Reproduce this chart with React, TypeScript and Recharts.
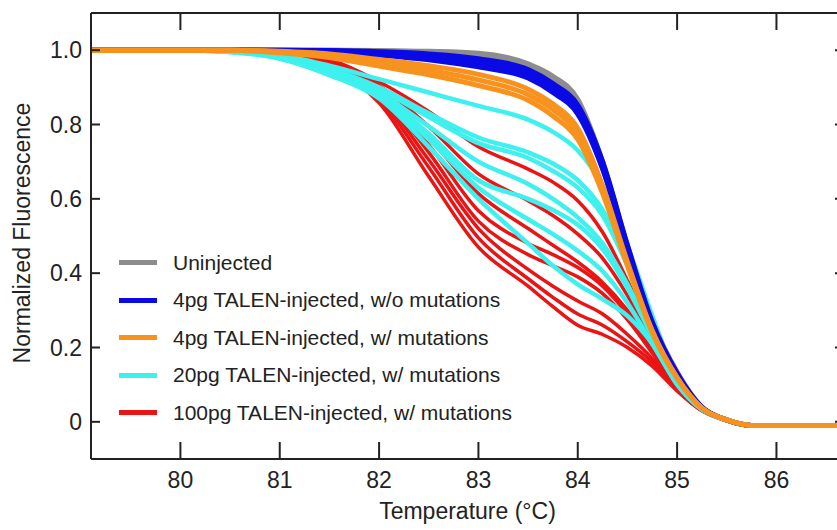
import { LineChart, Line, XAxis, YAxis, ReferenceLine, Legend } from "recharts";

// melt temperatures (°C) where curves were read
const TEMPS = [79.1, 80, 80.5, 81, 81.5, 82, 82.5, 83, 83.5, 83.75, 84, 84.25, 84.5, 84.75, 85, 85.25, 85.5, 85.75, 86.68];

const X_TICKS = [80, 81, 82, 83, 84, 85, 86];
const Y_TICKS = [0, 0.2, 0.4, 0.6, 0.8, 1.0];

// uninjected
const UNINJ_A = [1, 1, 1, 1, 1, 0.999, 0.997, 0.992, 0.963, 0.93, 0.868, 0.7, 0.475, 0.27, 0.134, 0.04, 0.005, -0.01, -0.01];
const UNINJ_B = [1, 1, 1, 1, 1, 0.998, 0.995, 0.987, 0.956, 0.921, 0.858, 0.695, 0.472, 0.268, 0.133, 0.04, 0.005, -0.01, -0.01];

// 4pg, no mutations
const P4_WT_A = [1, 1, 1, 1, 0.999, 0.996, 0.99, 0.977, 0.948, 0.91, 0.852, 0.7, 0.475, 0.268, 0.131, 0.039, 0.005, -0.01, -0.01];
const P4_WT_B = [1, 1, 1, 1, 0.998, 0.992, 0.982, 0.966, 0.937, 0.898, 0.84, 0.69, 0.468, 0.264, 0.129, 0.038, 0.005, -0.01, -0.01];
const P4_WT_C = [1, 1, 1, 0.999, 0.997, 0.987, 0.974, 0.955, 0.925, 0.886, 0.828, 0.68, 0.462, 0.261, 0.127, 0.038, 0.005, -0.01, -0.01];

// 4pg, with mutations
const P4_MUT_A = [1, 1, 1, 0.997, 0.99, 0.975, 0.958, 0.935, 0.895, 0.855, 0.79, 0.635, 0.43, 0.245, 0.119, 0.037, 0.005, -0.01, -0.01];
const P4_MUT_B = [1, 1, 1, 0.995, 0.985, 0.966, 0.946, 0.92, 0.88, 0.84, 0.775, 0.625, 0.425, 0.243, 0.118, 0.037, 0.005, -0.01, -0.01];
const P4_MUT_C = [1, 1, 1, 0.993, 0.98, 0.957, 0.934, 0.905, 0.865, 0.823, 0.76, 0.615, 0.42, 0.24, 0.117, 0.037, 0.005, -0.01, -0.01];

// 20pg, with mutations
const P20_A = [1, 1, 0.998, 0.987, 0.958, 0.922, 0.886, 0.85, 0.813, 0.78, 0.73, 0.635, 0.475, 0.285, 0.12, 0.036, 0.004, -0.01, -0.01];
const P20_B = [1, 1, 0.997, 0.985, 0.95, 0.9, 0.83, 0.765, 0.725, 0.695, 0.65, 0.57, 0.43, 0.26, 0.115, 0.036, 0.004, -0.01, -0.01];
const P20_C = [1, 1, 0.997, 0.984, 0.947, 0.895, 0.82, 0.75, 0.71, 0.675, 0.63, 0.555, 0.42, 0.255, 0.113, 0.035, 0.004, -0.01, -0.01];
const P20_D = [1, 1, 0.996, 0.982, 0.943, 0.885, 0.795, 0.7, 0.64, 0.6, 0.55, 0.48, 0.37, 0.235, 0.11, 0.035, 0.004, -0.01, -0.01];
const P20_E = [1, 1, 0.996, 0.981, 0.94, 0.88, 0.775, 0.65, 0.6, 0.57, 0.53, 0.465, 0.36, 0.23, 0.108, 0.035, 0.004, -0.01, -0.01];
const P20_F = [1, 1, 0.995, 0.979, 0.937, 0.875, 0.76, 0.63, 0.545, 0.505, 0.46, 0.405, 0.32, 0.21, 0.103, 0.034, 0.004, -0.01, -0.01];
const P20_G = [1, 1, 0.995, 0.977, 0.933, 0.87, 0.74, 0.6, 0.48, 0.42, 0.37, 0.33, 0.285, 0.21, 0.1, 0.033, 0.004, -0.01, -0.01];

// 100pg, with mutations
const P100_A = [1, 1, 1, 0.995, 0.975, 0.915, 0.835, 0.74, 0.68, 0.645, 0.595, 0.51, 0.38, 0.23, 0.105, 0.034, 0.004, -0.01, -0.01];
const P100_B = [1, 1, 1, 0.994, 0.972, 0.905, 0.795, 0.667, 0.595, 0.555, 0.505, 0.44, 0.34, 0.215, 0.1, 0.033, 0.004, -0.01, -0.01];
const P100_C = [1, 1, 1, 0.994, 0.969, 0.895, 0.765, 0.614, 0.52, 0.475, 0.43, 0.375, 0.3, 0.2, 0.095, 0.032, 0.004, -0.01, -0.01];
const P100_D = [1, 1, 1, 0.993, 0.967, 0.89, 0.745, 0.568, 0.48, 0.45, 0.415, 0.365, 0.29, 0.195, 0.093, 0.032, 0.004, -0.01, -0.01];
const P100_E = [1, 1, 1, 0.993, 0.964, 0.885, 0.725, 0.54, 0.45, 0.42, 0.39, 0.345, 0.275, 0.185, 0.09, 0.031, 0.004, -0.01, -0.01];
const P100_F = [1, 1, 1, 0.992, 0.961, 0.878, 0.705, 0.52, 0.41, 0.365, 0.325, 0.29, 0.235, 0.17, 0.088, 0.031, 0.004, -0.01, -0.01];
const P100_G = [1, 1, 1, 0.991, 0.958, 0.868, 0.685, 0.495, 0.385, 0.335, 0.29, 0.26, 0.215, 0.16, 0.085, 0.03, 0.004, -0.01, -0.01];
const P100_H = [1, 1, 1, 0.99, 0.955, 0.858, 0.66, 0.47, 0.365, 0.31, 0.26, 0.235, 0.2, 0.15, 0.083, 0.03, 0.004, -0.01, -0.01];

const GROUPS = [
  { name: "Uninjected", color: "#8d8d8d", width: 5, curves: [UNINJ_A, UNINJ_B] },
  { name: "4pg TALEN-injected, w/o mutations", color: "#0a0ae6", width: 5, curves: [P4_WT_A, P4_WT_B, P4_WT_C] },
  { name: "4pg TALEN-injected, w/ mutations", color: "#f7921e", width: 5, curves: [P4_MUT_A, P4_MUT_B, P4_MUT_C] },
  { name: "20pg TALEN-injected, w/ mutations", color: "#3ef0ee", width: 4.5, curves: [P20_A, P20_B, P20_C, P20_D, P20_E, P20_F, P20_G] },
  { name: "100pg TALEN-injected, w/ mutations", color: "#ea1414", width: 3.5, curves: [P100_A, P100_B, P100_C, P100_D, P100_E, P100_F, P100_G, P100_H] },
];

// draw order: red first, then cyan, gray, blue, orange on top
const DRAW_ORDER = [4, 3, 0, 1, 2];

const data = TEMPS.map((t, i) => {
  const row: Record<string, number> = { t };
  GROUPS.forEach((g, gi) => g.curves.forEach((c, ci) => { row[`s${gi}_${ci}`] = c[i]; }));
  return row;
});

const FONT = '"Liberation Sans", Arial, Helvetica, sans-serif';
const INK = "#222";
const W = 860;
const H = 530;
const PLOT_TOP = 13;
const PLOT_RIGHT = 844;

function YTick({ x, y, payload }: any) {
  const ax = x + 9;
  const v = payload.value;
  return (
    <g>
      <line x1={ax} x2={ax + 9} y1={y} y2={y} stroke={INK} strokeWidth={2} />
      <line x1={PLOT_RIGHT - 9} x2={PLOT_RIGHT} y1={y} y2={y} stroke={INK} strokeWidth={2} />
      <text x={x} y={y} dy="0.36em" textAnchor="end" fontSize={23} fontFamily={FONT} fill={INK}>
        {v === 0 ? "0" : v.toFixed(1)}
      </text>
    </g>
  );
}

function XTick({ x, y, payload }: any) {
  const ay = y - 13;
  return (
    <g>
      <line x1={x} x2={x} y1={ay} y2={ay - 17} stroke={INK} strokeWidth={2} />
      <line x1={x} x2={x} y1={PLOT_TOP} y2={PLOT_TOP + 17} stroke={INK} strokeWidth={2} />
      <text x={x} y={y} dy="0.71em" textAnchor="middle" fontSize={23} fontFamily={FONT} fill={INK}>
        {payload.value}
      </text>
    </g>
  );
}

function LegendBox() {
  return (
    <div style={{ fontFamily: FONT, fontSize: 21, color: INK }}>
      {GROUPS.map((g) => (
        <div key={g.name} style={{ display: "flex", alignItems: "center", height: 37.5 }}>
          <span style={{ display: "inline-block", width: 38, height: 5, background: g.color, marginRight: 16 }} />
          <span>{g.name}</span>
        </div>
      ))}
    </div>
  );
}

export default function App() {
  return (
    <div style={{ position: "absolute", left: 0, top: 0, width: 837, height: 530, overflow: "hidden", background: "#fff" }}>
      <LineChart width={W} height={H} data={data} margin={{ top: PLOT_TOP, right: W - PLOT_RIGHT, bottom: 0, left: 0 }}>
        <XAxis
          dataKey="t"
          type="number"
          domain={[79.1, 86.68]}
          ticks={X_TICKS}
          allowDataOverflow
          height={71}
          tickSize={0}
          tickMargin={13}
          tick={<XTick />}
          axisLine={{ stroke: INK, strokeWidth: 2 }}
          label={(p: any) => {
            const vb = p.viewBox;
            return (
              <text x={vb.x + vb.width / 2} y={vb.y + 60} textAnchor="middle" fontSize={23} fontFamily={FONT} fill={INK}>
                Temperature (°C)
              </text>
            );
          }}
        />
        <YAxis
          type="number"
          domain={[-0.1, 1.1]}
          ticks={Y_TICKS}
          allowDataOverflow
          width={91}
          tickSize={0}
          tickMargin={9}
          tick={<YTick />}
          axisLine={{ stroke: INK, strokeWidth: 2 }}
          label={(p: any) => {
            const vb = p.viewBox;
            const cy = vb.y + vb.height / 2 - 3;
            return (
              <text x={30} y={cy} transform={`rotate(-90 30 ${cy})`} textAnchor="middle" fontSize={23} fontFamily={FONT} fill={INK}>
                Normalized Fluorescence
              </text>
            );
          }}
        />
        <ReferenceLine y={1.1} stroke={INK} strokeWidth={2} />
        <ReferenceLine x={86.68} stroke={INK} strokeWidth={2} />
        <Legend
          layout="vertical"
          align="center"
          verticalAlign="middle"
          content={() => <LegendBox />}
          wrapperStyle={{ left: 119, top: 244, width: 420 }}
        />
        {DRAW_ORDER.map((gi) =>
          GROUPS[gi].curves.map((_, ci) => (
            <Line
              key={`s${gi}_${ci}`}
              dataKey={`s${gi}_${ci}`}
              type="monotone"
              stroke={GROUPS[gi].color}
              strokeWidth={GROUPS[gi].width}
              dot={false}
              activeDot={false}
              legendType="none"
              isAnimationActive={false}
            />
          ))
        )}
      </LineChart>
    </div>
  );
}
